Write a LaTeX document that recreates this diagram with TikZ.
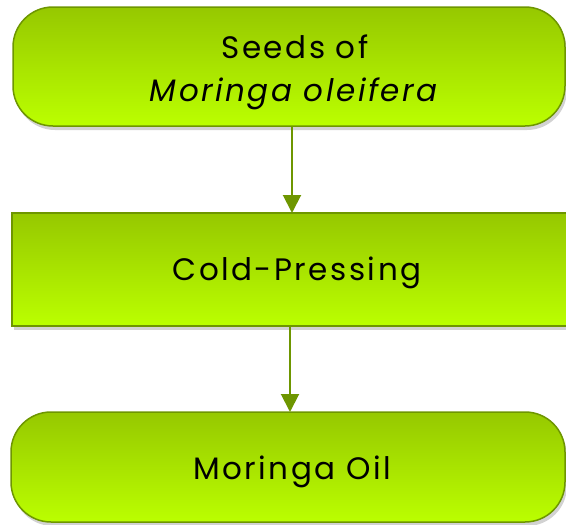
\documentclass[tikz,border=0pt]{standalone}
\usepackage{fontspec}
\setmainfont{Poppins}[LetterSpace=8]
\usetikzlibrary{arrows.meta,shadows}
\definecolor{gtop}{HTML}{96C800}
\definecolor{gbot}{HTML}{BBFF00}
\definecolor{edge}{HTML}{6E9600}
\tikzset{
  box/.style={draw=edge, line width=1.5pt, top color=gtop, bottom color=gbot,
    drop shadow={shadow xshift=2pt, shadow yshift=-4pt, fill=black!35, opacity=0.5}},
  lbl/.style={font=\fontsize{31}{43}\selectfont, align=center, text=black},
  link/.style={draw=edge, line width=2pt, -{Triangle[length=18pt,width=18pt]}}
}
\begin{document}
\begin{tikzpicture}[x=1pt,y=-1pt]
\useasboundingbox (0,0) rectangle (566,525);
\begin{scope}
\clip (0,0) rectangle (566,525);
\path[box, rounded corners=40pt] (13,7) rectangle (565,126);
\path[box] (12,213) rectangle (600,326);
\path[box, rounded corners=40pt] (11,412) rectangle (565,522);
\end{scope}
\node[lbl] (seeds) at (295,72) {Seeds of\\\textit{Moringa oleifera}};
\node[lbl] (cold) at (297,273) {Cold-Pressing};
\node[lbl] (oil) at (292,472) {Moringa Oil};
\coordinate (a1) at (292,127);
\coordinate (a2) at (292,213);
\coordinate (b1) at (290,326);
\coordinate (b2) at (290,412);
\draw[link] (a1) -- (a2);
\draw[link] (b1) -- (b2);
\end{tikzpicture}
\end{document}
